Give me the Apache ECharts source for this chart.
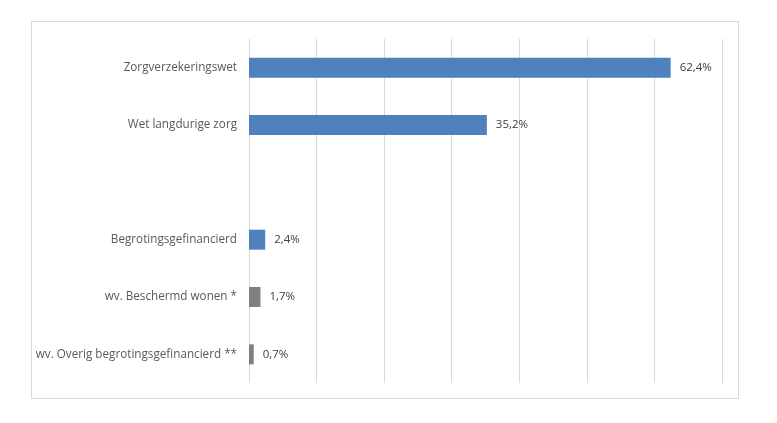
<!DOCTYPE html>
<html>
<head>
<meta charset="utf-8">
<script src="https://cdn.jsdelivr.net/npm/echarts@6/dist/echarts.min.js"></script>
<style>
  html, body { margin: 0; padding: 0; background: #fff; }
  #chart { width: 777px; height: 423px; }
</style>
</head>
<body>
<div id="chart"></div>
<script>
// chart data
const categories = [
  'Zorgverzekeringswet',
  'Wet langdurige zorg',
  '',
  'Begrotingsgefinancierd',
  'wv. Beschermd wonen *',
  'wv. Overig begrotingsgefinancierd **'
];
const shares = [62.4, 35.2, null, 2.4, 1.7, 0.7];
const xTicks = [0, 10, 20, 30, 40, 50, 60, 70];

const chart = echarts.init(document.getElementById('chart'), null, { renderer: 'canvas' });

chart.setOption({
  animation: false,
  backgroundColor: '#fff',
  graphic: [{
    type: 'rect',
    shape: { x: 31.5, y: 21.5, width: 707, height: 377 },
    style: { fill: 'none', stroke: '#d9d9d9', lineWidth: 1 },
    silent: true
  }],
  grid: { left: 249, right: 55, top: 39, bottom: 40 },
  xAxis: {
    type: 'value',
    min: xTicks[0],
    max: xTicks[xTicks.length - 1],
    interval: 10,
    axisLabel: { show: false },
    axisLine: { show: false },
    axisTick: { show: false },
    splitLine: { lineStyle: { color: '#d9d9d9', width: 1 } }
  },
  yAxis: {
    type: 'category',
    inverse: true,
    data: categories,
    axisLine: { show: false },
    axisTick: { show: false },
    axisLabel: {
      color: '#595959',
      fontFamily: 'Open Sans',
      fontSize: 11.7,
      margin: 12
    }
  },
  series: [{
    type: 'bar',
    data: shares,
    barWidth: 20,
    itemStyle: {
      color: p => categories[p.dataIndex].startsWith('wv.') ? '#7f7f7f' : '#4f81bd'
    },
    label: {
      show: true,
      position: 'right',
      distance: 9,
      color: '#404040',
      fontFamily: 'Open Sans',
      fontSize: 11.5,
      formatter: p => p.value.toFixed(1).replace('.', ',') + '%'
    }
  }]
});
</script>
</body>
</html>
